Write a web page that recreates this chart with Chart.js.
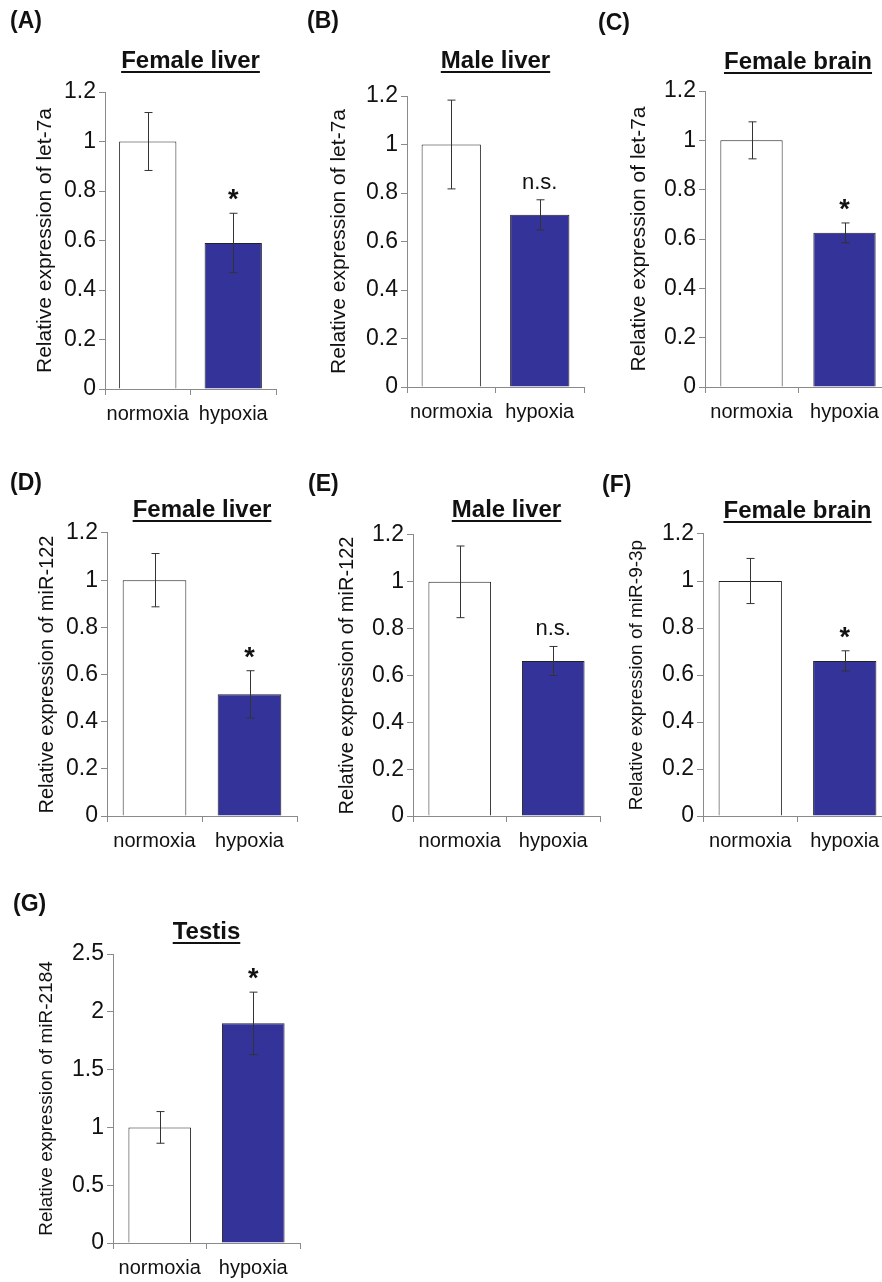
<!DOCTYPE html>
<html>
<head>
<meta charset="utf-8">
<title>Relative expression, normoxia vs hypoxia</title>
<script src="https://cdn.jsdelivr.net/npm/chart.js@4.4.1/dist/chart.umd.min.js"></script>
<style>
  html, body { margin: 0; padding: 0; background: #fff; overflow: hidden; }
  body { width: 882px; height: 1282px; position: relative; }
  canvas { position: absolute; }
</style>
</head>
<body>
<script>
// ---- data ----
const categories = ["normoxia", "hypoxia"];
const panelLetters = ["(A)", "(B)", "(C)", "(D)", "(E)", "(F)", "(G)"];
const panelTitles = ["Female liver", "Male liver", "Female brain", "Female liver", "Male liver", "Female brain", "Testis"];
const yTitles = [
  "Relative expression of let-7a",
  "Relative expression of let-7a",
  "Relative expression of let-7a",
  "Relative expression of miR-122",
  "Relative expression of miR-122",
  "Relative expression of miR-9-3p",
  "Relative expression of miR-2184",
];
const normoxiaMean = [1.0, 1.0, 1.0, 1.0, 1.0, 1.0, 1.0];
const normoxiaErr = [0.117, 0.183, 0.075, 0.113, 0.153, 0.096, 0.137];
const hypoxiaMean = [0.59, 0.71, 0.625, 0.516, 0.662, 0.66, 1.9];
const hypoxiaErr = [0.12, 0.062, 0.04, 0.1, 0.062, 0.043, 0.27];
const significance = ["*", "n.s.", "*", "*", "n.s.", "*", "*"];
const yMax = [1.2, 1.2, 1.2, 1.2, 1.2, 1.2, 2.5];
const yStep = [0.2, 0.2, 0.2, 0.2, 0.2, 0.2, 0.5];

// ---- layout of each panel on the page (px) ----
const layouts = [
  { box: [0, 0, 300, 440],   axisX: 105, plotTop: 92,  plotBottom: 389,  plotRight: 276, titleY: 61,  yTitleX: 45,  ySize: 21, letter: [10, 22] },
  { box: [290, 0, 300, 440], axisX: 407, plotTop: 96,  plotBottom: 387,  plotRight: 584, titleY: 61,  yTitleX: 339, ySize: 21, letter: [307, 22] },
  { box: [585, 0, 320, 440], axisX: 705, plotTop: 91,  plotBottom: 387,  plotRight: 891, titleY: 62,  yTitleX: 639, ySize: 21, letter: [598, 24] },
  { box: [0, 430, 305, 440], axisX: 107, plotTop: 533, plotBottom: 816,  plotRight: 297, titleY: 510, yTitleX: 47,  ySize: 20, letter: [10, 484] },
  { box: [290, 430, 315, 440], axisX: 413, plotTop: 535, plotBottom: 816, plotRight: 600, titleY: 510, yTitleX: 347, ySize: 20, letter: [308, 485] },
  { box: [585, 430, 320, 440], axisX: 703, plotTop: 534, plotBottom: 816, plotRight: 892, titleY: 511, yTitleX: 637, ySize: 19, letter: [602, 486] },
  { box: [0, 860, 310, 440], axisX: 113, plotTop: 954, plotBottom: 1243, plotRight: 300, titleY: 932, yTitleX: 47,  ySize: 19, letter: [13, 905] },
];

const FONT = "'Liberation Sans', Arial, sans-serif";
const AXIS_GREY = "#8a8a8a";
const X_AXIS_H = 40;
const TITLE_SIZE = 24;

// error bars, significance marks, panel letter and title underline
const panelDecor = {
  id: "panelDecor",
  afterDatasetsDraw(chart, args, opts) {
    const ctx = chart.ctx;
    const xs = chart.scales.x, ys = chart.scales.y;
    const means = chart.data.datasets[0].data;
    ctx.save();
    ctx.strokeStyle = "#333";
    ctx.lineWidth = 1;
    let hypTop = 0;
    means.forEach((m, i) => {
      const px = Math.round(xs.getPixelForValue(i)) + 0.5;
      const top = ys.getPixelForValue(m + opts.errors[i]);
      const bot = ys.getPixelForValue(m - opts.errors[i]);
      ctx.beginPath();
      ctx.moveTo(px, top); ctx.lineTo(px, bot);
      ctx.moveTo(px - 4, top); ctx.lineTo(px + 4, top);
      ctx.moveTo(px - 4, bot); ctx.lineTo(px + 4, bot);
      ctx.stroke();
      if (i === 1) hypTop = top;
    });
    // mark over the hypoxia bar
    const mx = xs.getPixelForValue(1);
    ctx.fillStyle = "#111";
    ctx.textAlign = "center";
    ctx.textBaseline = "alphabetic";
    if (opts.mark === "*") {
      ctx.font = "bold 27px " + FONT;
      ctx.fillText("*", mx, hypTop - 5);
    } else {
      ctx.font = "22px " + FONT;
      ctx.fillText(opts.mark, mx, hypTop - 11);
    }
    ctx.restore();
  },
  afterDraw(chart, args, opts) {
    const ctx = chart.ctx;
    ctx.save();
    // panel letter
    ctx.fillStyle = "#111";
    ctx.font = "bold 23px " + FONT;
    ctx.textAlign = "left";
    ctx.textBaseline = "middle";
    ctx.fillText(opts.letter, opts.letterX, opts.letterY);
    // underline the title
    const t = chart.titleBlock;
    if (t) {
      ctx.font = "bold " + TITLE_SIZE + "px " + FONT;
      const w = ctx.measureText(t.options.text).width;
      const cx = (t.left + t.right) / 2;
      const cy = t.top + t._padding.top + TITLE_SIZE * 0.6;
      ctx.fillRect(cx - w / 2, cy + 10, w, 2);
    }
    ctx.restore();
  },
};

layouts.forEach((L, i) => {
  const [bx, by, bw, bh] = L.box;
  const canvas = document.createElement("canvas");
  canvas.width = bw;
  canvas.height = bh;
  canvas.style.left = bx + "px";
  canvas.style.top = by + "px";
  document.body.appendChild(canvas);

  const lh = TITLE_SIZE * 1.2;

  new Chart(canvas.getContext("2d"), {
    type: "bar",
    data: {
      labels: categories,
      datasets: [
        {
          data: [normoxiaMean[i], hypoxiaMean[i]],
          backgroundColor: ["#ffffff", "#333399"],
          borderColor: "#222",
          borderWidth: 1,
          barPercentage: 0.67,
          categoryPercentage: 1,
        },
      ],
    },
    options: {
      responsive: false,
      animation: false,
      devicePixelRatio: 1,
      layout: {
        padding: {
          left: 0,
          top: 0,
          right: bx + bw - L.plotRight,
          bottom: by + bh - L.plotBottom - X_AXIS_H,
        },
      },
      plugins: {
        legend: { display: false },
        tooltip: { enabled: false },
        title: {
          display: true,
          text: panelTitles[i],
          fullSize: false,
          color: "#111",
          font: { family: FONT, size: TITLE_SIZE, weight: "bold" },
          padding: { top: L.titleY - by - lh / 2, bottom: L.plotTop - L.titleY - lh / 2 },
        },
        panelDecor: {
          errors: [normoxiaErr[i], hypoxiaErr[i]],
          mark: significance[i],
          letter: panelLetters[i],
          letterX: L.letter[0] - bx,
          letterY: L.letter[1] - by,
        },
      },
      scales: {
        x: {
          ticks: {
            color: "#111",
            font: { family: FONT, size: 20 },
            padding: 7,
            autoSkip: false,
            maxRotation: 0,
            minRotation: 0,
          },
          grid: { drawOnChartArea: false, offset: true, tickLength: 6, color: AXIS_GREY },
          border: { color: AXIS_GREY, width: 1 },
          afterFit: (s) => { s.height = X_AXIS_H; },
        },
        y: {
          min: 0,
          max: yMax[i],
          ticks: {
            stepSize: yStep[i],
            color: "#111",
            font: { family: FONT, size: 23 },
            padding: 3,
            callback: (v) => String(Number(v.toFixed(2))), // 1 not 1.0
          },
          grid: { drawOnChartArea: false, tickLength: 6, color: AXIS_GREY },
          border: { color: AXIS_GREY, width: 1 },
          title: {
            display: true,
            text: yTitles[i],
            color: "#111",
            font: { family: FONT, size: L.ySize },
            padding: { top: L.yTitleX - bx - L.ySize * 0.6, bottom: 0 },
          },
          afterFit: (s) => { s.width = L.axisX - bx; },
        },
      },
    },
    plugins: [panelDecor],
  });
});
</script>
</body>
</html>
